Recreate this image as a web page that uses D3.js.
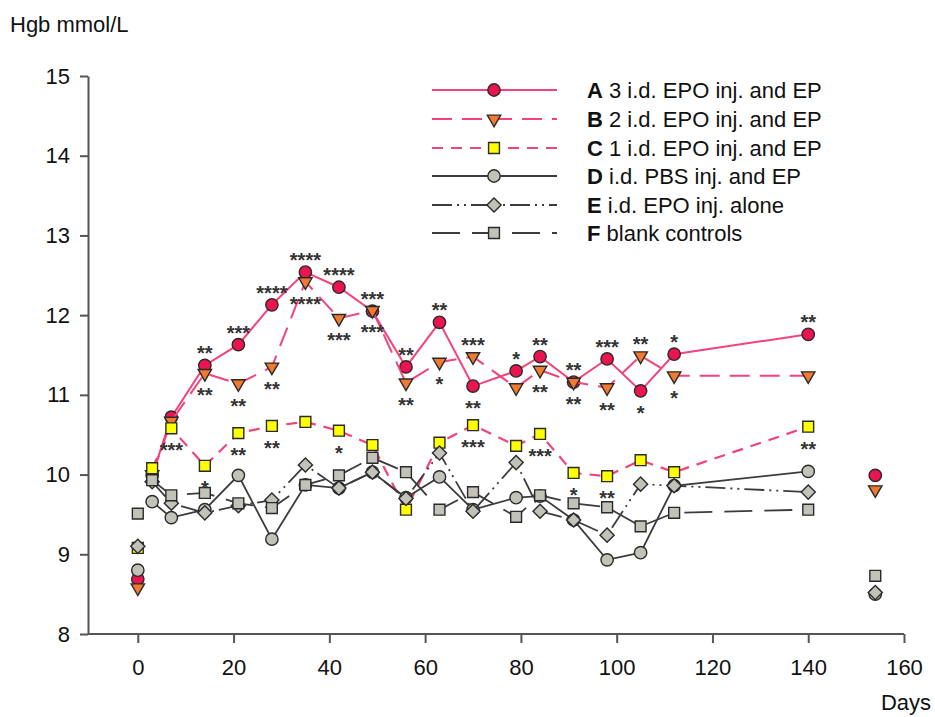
<!DOCTYPE html>
<html>
<head>
<meta charset="utf-8">
<script src="https://cdn.jsdelivr.net/npm/d3@7"></script>
<style>
  html, body { margin: 0; padding: 0; background: #fff; }
  svg { display: block; font-family: "Liberation Sans", Arial, sans-serif; }
</style>
</head>
<body>
<svg id="chart" width="935" height="717"></svg>
<script>
// ---------- data ----------
const days = [0, 3, 7, 14, 21, 28, 35, 42, 49, 56, 63, 70, 79, 84, 91, 98, 105, 112, 140, 154];
const seriesA = [8.69, 9.99, 10.72, 11.37, 11.63, 12.13, 12.54, 12.35, 12.05, 11.35, 11.91, 11.11, 11.30, 11.48, 11.16, 11.45, 11.05, 11.51, 11.76, 9.99];
const seriesB = [8.58, 10.00, 10.67, 11.27, 11.14, 11.35, 12.42, 11.96, 12.06, 11.15, 11.41, 11.48, 11.09, 11.31, 11.16, 11.09, 11.49, 11.24, 11.24, 9.81];
const seriesC = [9.08, 10.08, 10.58, 10.11, 10.52, 10.61, 10.66, 10.55, 10.37, 9.56, 10.40, 10.62, 10.36, 10.51, 10.02, 9.98, 10.18, 10.03, 10.60, null];
const seriesD = [8.80, 9.66, 9.46, 9.56, 9.99, 9.19, 9.87, 9.83, 10.03, 9.71, 9.97, 9.56, 9.71, 9.73, 9.43, 8.93, 9.02, 9.86, 10.04, 8.50];
const seriesE = [9.10, 9.91, 9.64, 9.52, 9.61, 9.68, 10.12, 9.83, 10.03, 9.70, 10.27, 9.54, 10.15, 9.54, 9.43, 9.24, 9.88, 9.86, 9.78, 8.52];
const seriesF = [9.51, 9.93, 9.74, 9.77, 9.64, 9.58, 9.87, 9.99, 10.21, 10.03, 9.56, 9.78, 9.47, 9.74, 9.64, 9.59, 9.35, 9.52, 9.56, 8.73];
const seriesKeys = ["A", "B", "C", "D", "E", "F"];
const legendBold = ["A", "B", "C", "D", "E", "F"];
const legendText = [" 3 i.d. EPO inj. and EP", " 2 i.d. EPO inj. and EP", " 1 i.d. EPO inj. and EP", " i.d. PBS inj. and EP", " i.d. EPO inj. alone", " blank controls"];
const xTicks = [0, 20, 40, 60, 80, 100, 120, 140, 160];
const yTicks = [8, 9, 10, 11, 12, 13, 14, 15];
// lines connect day 3 .. day 140; day 0 and day 154 are separate points
const connectedDays = [3, 140];
// significance marks: [day, series, stars, side]
const sigDays   = [7, 14, 14, 14, 21, 21, 21, 28, 28, 28, 35, 35, 42, 42, 42, 49, 49, 56, 56, 63, 63, 70, 70, 70, 79, 84, 84, 84, 91, 91, 91, 98, 98, 98, 105, 105, 112, 112, 140, 140];
const sigSeries = ["C","A","B","C","A","B","C","A","B","C","A","B","A","B","C","A","B","A","B","A","B","B","A","C","A","A","B","C","A","B","C","A","B","C","B","A","A","B","A","C"];
const sigStars  = ["***","**","**","*","***","**","**","****","**","**","****","****","****","***","*","***","***","**","**","**","*","***","**","***","*","**","**","***","**","**","*","***","**","**","**","*","*","*","**","**"];
const sigSide   = ["below","above","below","below","above","below","below","above","below","below","above","below","above","below","below","above","below","above","below","above","below","above","below","below","above","above","below","below","above","below","below","above","below","below","above","below","above","below","above","below"];

// ---------- setup ----------
const values = { A: seriesA, B: seriesB, C: seriesC, D: seriesD, E: seriesE, F: seriesF };
const style = {
  A: { line: "#f2437a", width: 2, dash: null,          shape: "circle",   fill: "#ec1450" },
  B: { line: "#f2437a", width: 2, dash: "20 10",       shape: "triangle", fill: "#f07a30" },
  C: { line: "#f2437a", width: 2.2, dash: "11 8",      shape: "square",   fill: "#ffff00" },
  D: { line: "#3c3c3c", width: 1.8, dash: null,        shape: "circle",   fill: "#c2c2b8" },
  E: { line: "#3c3c3c", width: 1.8, dash: "20 5 2 5 2 5", shape: "diamond", fill: "#c2c2b8" },
  F: { line: "#3c3c3c", width: 1.8, dash: "28 12",     shape: "square",   fill: "#c2c2b8" }
};

const svg = d3.select("#chart");
const x = d3.scaleLinear().domain([-10.4, 160]).range([88, 904]);
const y = d3.scaleLinear().domain([8, 15]).range([634, 76]);

const FONT = 22;

// axes
const xAxis = svg.append("g").attr("transform", "translate(0,634)")
  .call(d3.axisBottom(x).tickValues(xTicks).tickFormat(d3.format("d")).tickSize(9).tickPadding(16).tickSizeOuter(0));
const yAxis = svg.append("g").attr("transform", "translate(88,0)")
  .call(d3.axisLeft(y).tickValues(yTicks).tickFormat(d3.format("d")).tickSize(8).tickPadding(10).tickSizeOuter(0));
[xAxis, yAxis].forEach(g => {
  g.select(".domain").attr("stroke", "#555").attr("stroke-width", 2);
  g.selectAll(".tick line").attr("stroke", "#555").attr("stroke-width", 2);
  g.selectAll(".tick text").attr("fill", "#111").style("font-size", FONT + "px")
    .style("font-family", "'Liberation Sans', Arial, sans-serif");
});
xAxis.select(".domain").attr("d", `M${x(-10.4)},0H${x(160)}`);

svg.append("text").attr("x", 10).attr("y", 32).text("Hgb mmol/L")
  .attr("font-size", FONT).attr("fill", "#111");
svg.append("text").attr("x", 931).attr("y", 710).attr("text-anchor", "end").text("Days")
  .attr("font-size", FONT).attr("fill", "#111");

function symbolPath(shape) {
  if (shape === "circle") return d3.symbol(d3.symbolCircle, 120)();
  if (shape === "square") return d3.symbol(d3.symbolSquare, 118)();
  if (shape === "diamond") return d3.symbol(d3.symbolSquare, 100)();
  if (shape === "triangle") return d3.symbol(d3.symbolTriangle, 78)();
  return d3.symbol(d3.symbolCircle, 100)();
}
function symbolRotate(shape) {
  if (shape === "diamond") return 45;
  if (shape === "triangle") return 180;
  return 0;
}

const lineGen = d3.line().x(d => x(d.day)).y(d => y(d.v));

seriesKeys.forEach(k => {
  const st = style[k];
  const pts = days.map((d, i) => ({ day: d, v: values[k][i] })).filter(p => p.v !== null);
  const linePts = pts.filter(p => p.day >= connectedDays[0] && p.day <= connectedDays[1]);
  svg.append("path").datum(linePts)
    .attr("d", lineGen).attr("fill", "none")
    .attr("stroke", st.line).attr("stroke-width", st.width)
    .attr("stroke-dasharray", st.dash);
  svg.append("g").selectAll("path").data(pts).join("path")
    .attr("d", symbolPath(st.shape))
    .attr("transform", p => `translate(${x(p.day)},${y(p.v)}) rotate(${symbolRotate(st.shape)})`)
    .attr("fill", st.fill).attr("stroke", "#2a2a2a").attr("stroke-width", 1.4);
});

// significance stars
const sigG = svg.append("g");
sigDays.forEach((d, i) => {
  const v = values[sigSeries[i]][days.indexOf(d)];
  const cy = y(v) + (sigSide[i] === "above" ? -17 : 17);
  sigG.append("text")
    .attr("x", x(d)).attr("y", cy + 12)
    .attr("text-anchor", "middle")
    .attr("font-size", 20).attr("font-weight", "bold").attr("fill", "#333")
    .text(sigStars[i]);
});

// legend
const legRows = [90, 119, 148, 176, 205, 233];
const leg = svg.append("g");
seriesKeys.forEach((k, i) => {
  const st = style[k];
  const ly = legRows[i];
  leg.append("line").attr("x1", 432).attr("x2", 557).attr("y1", ly).attr("y2", ly)
    .attr("stroke", st.line).attr("stroke-width", st.width).attr("stroke-dasharray", st.dash);
  leg.append("path").attr("d", symbolPath(st.shape))
    .attr("transform", `translate(494,${ly}) rotate(${symbolRotate(st.shape)})`)
    .attr("fill", st.fill).attr("stroke", "#2a2a2a").attr("stroke-width", 1.4);
  const t = leg.append("text").attr("x", 587).attr("y", ly + 8).attr("font-size", FONT).attr("fill", "#111");
  t.append("tspan").attr("font-weight", "bold").text(legendBold[i]);
  t.append("tspan").text(legendText[i]);
});
</script>
</body>
</html>
